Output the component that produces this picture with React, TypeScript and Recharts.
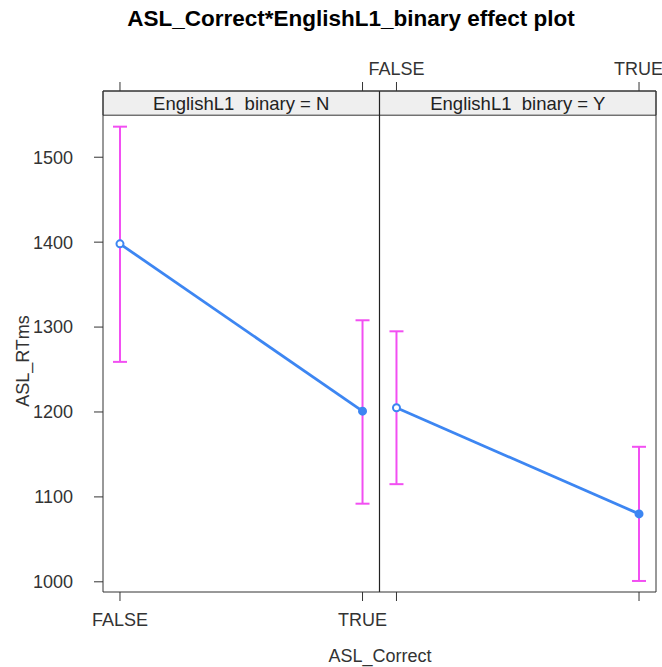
import React from 'react';
import { LineChart, Line, XAxis, YAxis, ErrorBar, ReferenceArea, ReferenceLine } from 'recharts';

// factor levels and panel strips
const levels = ['FALSE', 'TRUE'];
const strips = ['EnglishL1\u00a0 binary = N', 'EnglishL1\u00a0 binary = Y'];

// fitted means with 95% limits, one set per panel
const fitN = [1398, 1201];
const lowerN = [1259, 1092];
const upperN = [1536, 1308];
const fitY = [1205, 1080];
const lowerY = [1115, 1001];
const upperY = [1295, 1159];

const yTicks = [1000, 1100, 1200, 1300, 1400, 1500];

const FONT = '"Liberation Sans", Arial, sans-serif';
const LINE = '#3d86f2';
const CI = '#f24ff2';
const INK = '#333';

// each panel is one unit wide plus padding on both sides
const PAD = 0.07;
const SPAN = 1 + 2 * PAD;
const xDomain = [-PAD, 2 * SPAN - PAD];
const yDomain = [988, 1578];
const stripBottom = 1549.5;

const rows = (fit: number[], lower: number[], upper: number[], panel: number) =>
  fit.map((v, i) => ({ x: panel * SPAN + i, fit: v, err: [v - lower[i], upper[i] - v] }));

const dataN = rows(fitN, lowerN, upperN, 0);
const dataY = rows(fitY, lowerY, upperY, 1);

const xTicks = [0, 1, SPAN, SPAN + 1];
const bottomLabels = [levels[0], levels[1], '', ''];
const topLabels = ['', '', levels[0], levels[1]];

const tickStyle = { fontSize: 18, fill: INK, fontFamily: FONT };

const Dot = (props: any) => {
  const { cx, cy, index } = props;
  return (
    <circle
      key={`d-${cx}-${cy}`}
      cx={cx}
      cy={cy}
      r={3.5}
      fill={index === 0 ? '#fff' : LINE}
      stroke={LINE}
      strokeWidth={2}
    />
  );
};

const App = () => {
  return (
    <div style={{ position: 'relative', width: 662, height: 667, background: '#fff', fontFamily: FONT }}>
      <style>{'body{margin:0}'}</style>
      <div
        style={{
          position: 'absolute', top: 6, left: 351, transform: 'translateX(-50%)',
          fontSize: 22.5, fontWeight: 'bold', whiteSpace: 'nowrap', color: '#000',
        }}
      >
        ASL_Correct*EnglishL1_binary effect plot
      </div>
      <LineChart
        width={662}
        height={667}
        margin={{ top: 61, right: 0, bottom: 25, left: 43 }}
        style={{ fontFamily: FONT }}
      >
        <XAxis
          xAxisId="b"
          type="number"
          dataKey="x"
          domain={xDomain}
          ticks={xTicks}
          allowDataOverflow
          height={50}
          tickSize={9}
          tickMargin={12}
          stroke={INK}
          tick={tickStyle}
          tickFormatter={(_v: number, i: number) => bottomLabels[i]}
        />
        <XAxis
          xAxisId="t"
          orientation="top"
          type="number"
          dataKey="x"
          domain={xDomain}
          ticks={xTicks}
          allowDataOverflow
          height={30}
          tickSize={9}
          tickMargin={7}
          stroke={INK}
          tick={tickStyle}
          tickFormatter={(_v: number, i: number) => topLabels[i]}
        />
        <YAxis
          yAxisId="l"
          type="number"
          domain={yDomain}
          ticks={yTicks}
          allowDataOverflow
          width={60}
          tickSize={9}
          tickMargin={11}
          stroke={INK}
          tick={{ ...tickStyle, dx: -10 }}
        />
        <YAxis
          yAxisId="r"
          orientation="right"
          type="number"
          domain={yDomain}
          ticks={yTicks}
          allowDataOverflow
          width={6}
          tickSize={6}
          stroke={INK}
          tick={false}
        />
        {strips.map((s, p) => (
          <ReferenceArea
            key={s}
            xAxisId="b"
            yAxisId="l"
            x1={p * SPAN - PAD}
            x2={(p + 1) * SPAN - PAD}
            y1={stripBottom}
            y2={yDomain[1]}
            fill="#efefef"
            fillOpacity={1}
            stroke={INK}
            strokeWidth={1}
            ifOverflow="visible"
            label={{ value: s, position: 'center', fontSize: 18.5, fill: '#222', fontFamily: FONT }}
          />
        ))}
        <ReferenceLine xAxisId="b" yAxisId="l" x={SPAN - PAD} stroke="#222" strokeWidth={1.2} />
        {[dataN, dataY].map((d, p) => (
          <Line
            key={p}
            data={d}
            xAxisId="b"
            yAxisId="l"
            dataKey="fit"
            type="linear"
            stroke={LINE}
            strokeWidth={2.8}
            dot={<Dot />}
            activeDot={false}
            isAnimationActive={false}
          >
            <ErrorBar dataKey="err" direction="y" width={7} stroke={CI} strokeWidth={2} isAnimationActive={false} />
          </Line>
        ))}
      </LineChart>
      <div
        style={{
          position: 'absolute', left: 380, top: 656, transform: 'translate(-50%, -50%)',
          fontSize: 18, color: INK, whiteSpace: 'nowrap',
        }}
      >
        ASL_Correct
      </div>
      <div
        style={{
          position: 'absolute', left: 23, top: 361, transform: 'translate(-50%, -50%) rotate(-90deg)',
          fontSize: 18, color: INK, whiteSpace: 'nowrap',
        }}
      >
        ASL_RTms
      </div>
    </div>
  );
};

export default App;
